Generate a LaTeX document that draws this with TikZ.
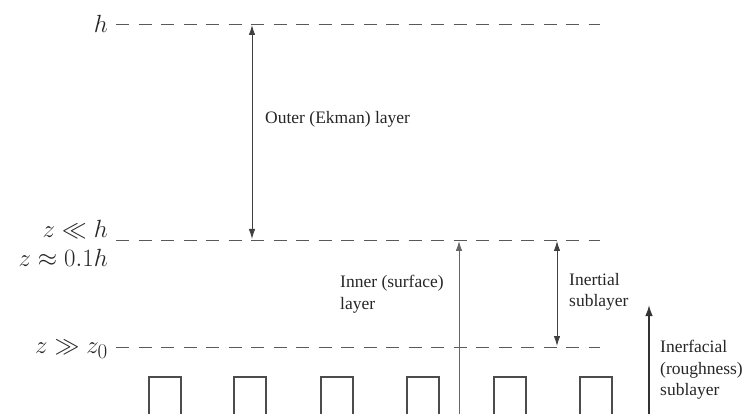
\documentclass[tikz,border=0pt]{standalone}
\usepackage{fontspec}
\usepackage{amssymb}
\newfontfamily\tnr{Liberation Serif}
\usetikzlibrary{arrows.meta}
\begin{document}
\begin{tikzpicture}[x=1pt,y=-1pt,
  level/.style={draw=black!65, line width=0.9pt, dash pattern=on 13pt off 9.5pt},
  mathlbl/.style={anchor=base east, inner sep=0pt, font=\fontsize{26}{28}\selectfont, text=black!85},
  txt/.style={anchor=west, inner sep=0pt, align=left, font=\tnr\fontsize{17.5}{21.5}\selectfont, text=black!85},
  dim/.style={draw=black!75, line width=0.9pt, {Latex[length=10pt,width=6.5pt]}-{Latex[length=10pt,width=6.5pt]}},
  up/.style={draw=black!60, line width=0.9pt, -{Latex[length=10pt,width=6.5pt]}},
  upthick/.style={draw=black!80, line width=1.6pt, -{Latex[length=11pt,width=7.5pt]}},
  rough/.style={draw=black!70, line width=1.2pt}]
\useasboundingbox (0,0) rectangle (742,414);
% labels on the left
\node[mathlbl] (lh) at (108,33) {$h$};
\node[mathlbl] (lzh) at (108,238) {$z \ll h$};
\node[mathlbl] (lz01) at (108,267) {$z \approx 0.1h$};
\node[mathlbl] (lz0) at (108,353) {$z \gg z_{\mbox{\fontsize{21}{21}\selectfont 0}}$};
% level lines
\coordinate (h0) at (116,24);  \coordinate (h1) at (600,24);
\coordinate (m0) at (116,240); \coordinate (m1) at (600,240);
\coordinate (s0) at (116,347); \coordinate (s1) at (600,347);
\draw[level] (h0) -- (h1);
\draw[level] (m0) -- (m1);
\draw[level] (s0) -- (s1);
% outer layer arrow
\coordinate (oa) at (252,25); \coordinate (ob) at (252,239);
\draw[dim] (oa) -- (ob);
\node[txt] (outer) at (265,119) {Outer (Ekman) layer};
% inner layer arrow
\coordinate (ia) at (459,414); \coordinate (ib) at (459,241);
\draw[up] (ia) -- (ib);
\node[txt] (inner) at (340,294) {Inner (surface)\\layer};
% inertial sublayer
\coordinate (na) at (557,241); \coordinate (nb) at (557,346);
\draw[dim] (na) -- (nb);
\node[txt] (inertial) at (569,292) {Inertial\\sublayer};
% interfacial sublayer
\coordinate (fa) at (649,414); \coordinate (fb) at (649,305);
\draw[upthick] (fa) -- (fb);
\node[txt] (interfacial) at (660,370) {Inerfacial\\(roughness)\\sublayer};
% roughness elements
\foreach \x in {149,234,321,407,494,580}{
  \draw[rough] (\x,414) |- (\x+32,377) -- (\x+32,414);
}
\end{tikzpicture}
\end{document}
